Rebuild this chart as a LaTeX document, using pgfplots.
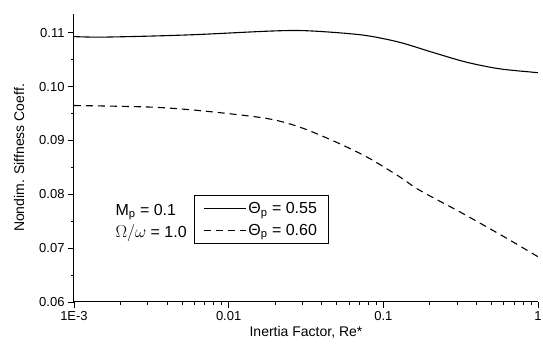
\documentclass[border=0pt]{standalone}
\usepackage{pgfplots}
\pgfplotsset{compat=1.18}
\usepackage{fontspec}
\setmainfont{Liberation Sans}
\begin{document}
\begin{tikzpicture}
\useasboundingbox (0pt,0pt) rectangle (543pt,352pt);
\begin{axis}[
  at={(74pt,50pt)}, anchor=south west,
  scale only axis, width=464pt, height=288pt,
  xmode=log, xmin=0.001, xmax=1,
  ymin=0.06, ymax=0.1135,
  axis x line*=bottom, axis y line*=left,
  xtick={0.001,0.01,0.1,1},
  xticklabels={1E-3,0.01,0.1,1},
  ytick={0.06,0.07,0.08,0.09,0.10,0.11},
  minor ytick={0.065,0.075,0.085,0.095,0.105},
  yticklabel style={/pgf/number format/.cd, fixed, fixed zerofill, precision=2, assume math mode=true},
  tick align=outside,
  major tick length=6pt, minor tick length=3pt,
  tick style={black, line width=0.8pt},
  axis line style={line width=1pt},
  ticklabel style={font=\fontsize{13}{15}\selectfont},
  xlabel={Inertia Factor, Re*},
  ylabel={Nondim. Siffness Coeff.},
  label style={font=\fontsize{14}{16}\selectfont},
  xlabel style={yshift=1pt},
  ylabel style={yshift=8pt},
  legend style={at={(0.2586,0.3715)}, anchor=north west, draw=black, line width=0.8pt,
    font=\fontsize{16}{18}\selectfont, row sep=5pt, inner xsep=9pt, inner ysep=5pt},
  legend cell align=left,
  legend image code/.code={\draw[#1, line width=1pt] (0pt,0pt) -- (42pt,0pt);},
]
\addplot[black, line width=1.1pt, smooth] coordinates {
(0.001,0.1093) (0.001472,0.1092) (0.00316,0.1094) (0.0065,0.1097) (0.0176,0.1103)
(0.0287,0.11043) (0.0469,0.1101) (0.0776,0.1095) (0.1268,0.10826) (0.207,0.1064)
(0.343,0.10456) (0.560,0.10333) (0.914,0.1027) (1,0.1026)
};
\addlegendentry{Θ\textsubscript{p} = 0.55}
\addplot[black, line width=1.1pt, smooth, dash pattern=on 7pt off 5pt] coordinates {
(0.001,0.0965) (0.00316,0.0962) (0.00679,0.0955) (0.0176,0.0941) (0.0287,0.0925)
(0.0469,0.0900) (0.0776,0.0870) (0.1268,0.0833) (0.1706,0.0808) (0.3236,0.0765)
(0.622,0.0719) (1,0.0684)
};
\addlegendentry{Θ\textsubscript{p} = 0.60}
\node[anchor=west, font=\fontsize{16}{18}\selectfont] at (rel axis cs:0.082,0.3125) {M\textsubscript{p} = 0.1};
\node[anchor=west, font=\fontsize{16}{18}\selectfont] at (rel axis cs:0.082,0.24) {$\Omega/\omega$ = 1.0};
\end{axis}
\end{tikzpicture}
\end{document}
